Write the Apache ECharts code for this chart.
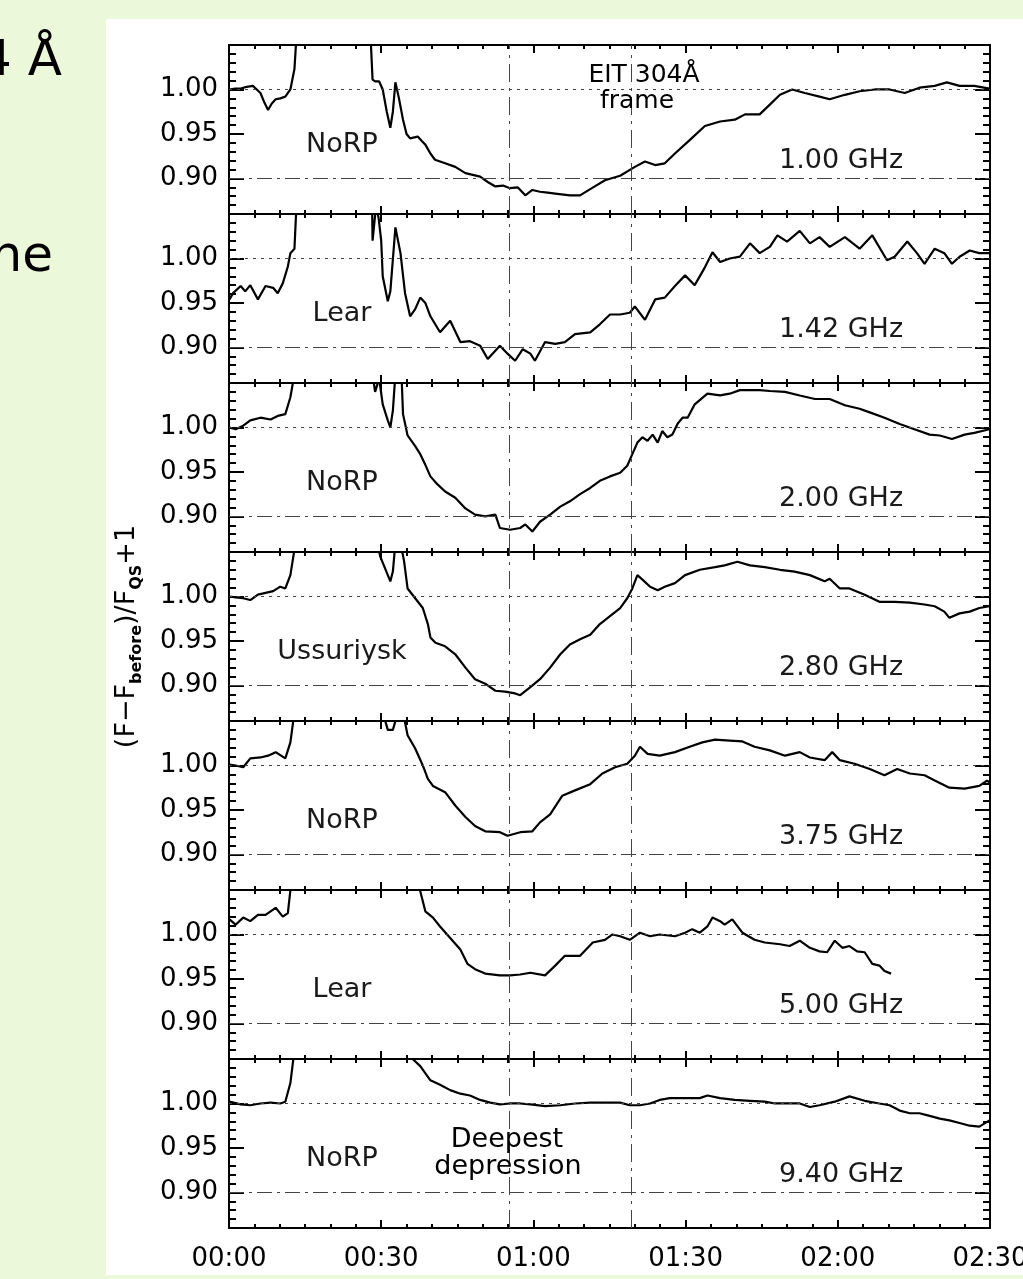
<!DOCTYPE html>
<html>
<head>
<meta charset="utf-8">
<script src="https://cdn.jsdelivr.net/npm/echarts@6/dist/echarts.min.js"></script>
<style>
html,body{margin:0;padding:0;background:#ECF8DA;}
#chart{width:1023px;height:1279px;}
</style>
</head>
<body>
<div id="chart"></div>
<script>
// ---------------- data (time in minutes after 00:00, normalized flux) ----------------
const stations = ['NoRP', 'Lear', 'NoRP', 'Ussuriysk', 'NoRP', 'Lear', 'NoRP'];
const freqs = ['1.00 GHz', '1.42 GHz', '2.00 GHz', '2.80 GHz', '3.75 GHz', '5.00 GHz', '9.40 GHz'];
const yTickValues = [0.90, 0.95, 1.00];
const xTickMinutes = [0, 30, 60, 90, 120, 150];
const refLines = [1.00, 0.90];
const eventTimes = [55.3, 79.2]; // deepest depression, EIT 304 frame

const norp1000 = [[0.1,1.000],[1.2,1.001],[2.3,1.001],[3.5,1.003],[4.7,1.004],[6.2,0.996],[7.0,0.985],[7.7,0.977],[8.4,0.984],[9.2,0.989],[10.1,0.990],[11.1,0.992],[12.1,1.000],[12.9,1.023],[13.3,1.06],[14,1.3],[20,1.6],[27.5,1.3],[27.9,1.06],[28.3,1.011],[28.8,1.009],[29.6,1.009],[30.3,1.000],[31.1,0.975],[31.8,0.957],[32.3,0.975],[32.8,1.008],[33.5,0.990],[34.3,0.966],[35.0,0.950],[35.7,0.945],[37.2,0.947],[38.0,0.942],[38.7,0.938],[39.7,0.928],[40.6,0.921],[42.6,0.917],[44.6,0.913],[46.6,0.906],[49.5,0.902],[51.0,0.896],[52.5,0.891],[54.0,0.892],[55.4,0.889],[56.9,0.890],[58.4,0.881],[59.8,0.887],[61.3,0.885],[62.8,0.884],[64.3,0.883],[67.2,0.881],[69.2,0.881],[71.2,0.888],[74.1,0.898],[77.1,0.903],[80.0,0.913],[82.0,0.919],[84.0,0.915],[85.9,0.917],[87.9,0.928],[90.8,0.943],[93.8,0.959],[96.8,0.964],[99.7,0.966],[101.7,0.972],[104.6,0.972],[106.6,0.983],[108.6,0.994],[111.0,1.000],[113.5,0.996],[116.4,0.992],[118.4,0.989],[121.4,0.994],[124.3,0.998],[127.3,1.000],[130.2,1.000],[133.2,0.996],[136.1,1.002],[139.1,1.004],[141.5,1.008],[144.0,1.004],[146.9,1.004],[149.9,1.001]];

const lear1420 = [[0.1,0.954],[0.8,0.961],[2.3,0.969],[3.2,0.963],[4.2,0.970],[5.7,0.954],[7.2,0.969],[8.7,0.967],[9.6,0.961],[10.6,0.972],[11.6,0.991],[12.1,1.006],[12.9,1.011],[13.3,1.06],[14,1.3],[20,1.6],[27.8,1.3],[28.2,1.06],[28.3,1.020],[29.0,1.06],[29.5,1.045],[30.0,1.02],[30.3,0.980],[31.3,0.952],[31.8,0.963],[32.8,1.035],[33.8,1.006],[34.7,0.961],[35.7,0.935],[36.7,0.943],[37.7,0.956],[38.7,0.950],[39.7,0.935],[41.6,0.917],[43.6,0.930],[45.6,0.906],[47.5,0.907],[49.5,0.902],[51.0,0.887],[53.4,0.902],[54.9,0.893],[56.4,0.885],[57.9,0.898],[59.4,0.893],[60.3,0.885],[62.3,0.906],[64.3,0.904],[66.2,0.906],[68.2,0.915],[71.2,0.917],[73.1,0.926],[75.1,0.937],[77.1,0.937],[79.0,0.939],[80.0,0.946],[82.0,0.931],[84.0,0.954],[85.9,0.956],[87.9,0.969],[89.9,0.981],[91.8,0.970],[93.8,0.990],[95.3,1.007],[96.8,0.996],[98.7,1.000],[100.7,1.002],[102.7,1.017],[104.6,1.006],[106.6,1.013],[108.1,1.026],[110.0,1.019],[112.5,1.031],[114.5,1.017],[116.4,1.024],[118.4,1.013],[121.4,1.024],[124.3,1.011],[126.8,1.026],[129.7,0.998],[131.2,1.002],[133.7,1.019],[135.6,1.006],[137.1,0.994],[139.1,1.011],[141.0,1.006],[142.5,0.994],[144.0,1.002],[146.0,1.009],[147.9,1.006],[149.9,1.006]];

const norp2000 = [[0.1,1.000],[1.3,0.998],[2.8,1.002],[4.2,1.008],[6.2,1.011],[8.2,1.009],[9.6,1.013],[11.1,1.015],[12.1,1.034],[12.9,1.06],[13.5,1.3],[20,1.6],[27.8,1.3],[28.3,1.06],[28.8,1.04],[29.6,1.055],[30.3,1.026],[31.3,1.008],[31.8,1.000],[32.3,1.019],[32.8,1.06],[33.5,1.3],[34.0,1.06],[34.3,1.015],[35.2,0.991],[36.7,0.979],[37.7,0.970],[38.7,0.958],[39.7,0.945],[41.1,0.936],[42.6,0.928],[44.6,0.921],[46.6,0.909],[48.5,0.902],[50.5,0.900],[52.5,0.902],[53.4,0.887],[55.4,0.885],[57.4,0.887],[58.4,0.891],[59.8,0.883],[61.3,0.894],[63.3,0.902],[65.3,0.911],[67.2,0.917],[69.2,0.925],[71.2,0.932],[73.1,0.940],[75.1,0.945],[77.1,0.949],[78.5,0.957],[79.5,0.970],[80.5,0.983],[81.5,0.989],[82.5,0.985],[83.5,0.992],[84.5,0.983],[85.4,0.996],[86.4,0.989],[87.4,0.992],[88.4,1.004],[89.4,1.011],[90.4,1.011],[91.8,1.026],[94.3,1.038],[96.8,1.036],[98.7,1.038],[100.7,1.042],[102.7,1.042],[104.6,1.042],[106.6,1.041],[109.6,1.040],[112.5,1.036],[115.5,1.032],[118.4,1.032],[121.4,1.025],[124.3,1.021],[126.3,1.017],[129.2,1.011],[132.2,1.004],[135.1,0.998],[138.1,0.992],[140.1,0.991],[142.5,0.987],[145.0,0.992],[146.9,0.994],[149.9,0.998]];

const ussur2800 = [[0.1,1.000],[1.3,0.999],[2.8,0.998],[4.2,0.996],[5.7,1.002],[7.2,1.004],[8.7,1.006],[10.1,1.011],[11.1,1.009],[12.1,1.024],[13.1,1.06],[13.6,1.3],[20,1.6],[29.0,1.3],[29.3,1.06],[29.8,1.045],[30.8,1.031],[31.8,1.017],[32.3,1.028],[32.8,1.06],[33.8,1.06],[34.5,1.04],[35.2,1.009],[36.7,0.998],[38.2,0.987],[39.2,0.969],[39.7,0.954],[40.7,0.948],[42.6,0.944],[44.6,0.935],[46.6,0.920],[48.5,0.907],[50.5,0.902],[52.5,0.894],[54.4,0.893],[56.4,0.891],[57.4,0.889],[59.4,0.898],[61.3,0.907],[63.3,0.920],[65.3,0.935],[67.2,0.946],[69.2,0.952],[71.2,0.957],[73.1,0.969],[75.1,0.978],[77.1,0.987],[78.5,0.998],[79.5,1.009],[80.5,1.024],[81.5,1.019],[83.0,1.011],[84.5,1.007],[85.9,1.011],[87.9,1.015],[89.9,1.024],[92.8,1.030],[95.8,1.033],[97.7,1.035],[100.2,1.039],[102.7,1.035],[105.6,1.033],[108.6,1.030],[111.5,1.028],[114.5,1.024],[117.4,1.017],[118.4,1.020],[120.4,1.009],[122.3,1.009],[125.3,1.002],[128.2,0.994],[131.2,0.994],[134.2,0.993],[137.1,0.991],[139.1,0.989],[141.0,0.983],[142.0,0.976],[144.0,0.981],[146.0,0.983],[147.9,0.987],[149.9,0.989]];

const norp3750 = [[0.1,1.001],[1.3,1.000],[2.8,0.998],[4.2,1.008],[6.2,1.009],[7.7,1.011],[9.2,1.015],[11.1,1.008],[12.1,1.026],[12.9,1.06],[13.5,1.3],[20,1.6],[30.0,1.3],[30.3,1.06],[31.3,1.04],[32.3,1.04],[33.3,1.06],[34.3,1.06],[35.2,1.034],[36.7,1.019],[38.2,1.000],[39.2,0.985],[40.2,0.977],[42.6,0.970],[44.6,0.955],[46.6,0.942],[48.5,0.932],[50.5,0.926],[53.4,0.925],[54.9,0.921],[57.4,0.925],[59.8,0.926],[61.3,0.936],[63.3,0.945],[65.7,0.966],[68.2,0.972],[71.2,0.979],[73.6,0.991],[76.1,0.998],[78.5,1.002],[80.0,1.011],[81.0,1.021],[82.5,1.013],[84.9,1.011],[87.9,1.015],[90.8,1.021],[93.3,1.026],[95.8,1.029],[98.7,1.028],[101.2,1.027],[103.6,1.021],[106.6,1.017],[109.6,1.011],[112.5,1.015],[114.5,1.009],[117.4,1.006],[118.9,1.015],[120.4,1.006],[123.3,1.002],[126.3,0.996],[129.2,0.989],[131.7,0.996],[134.2,0.991],[137.1,0.989],[139.1,0.983],[142.0,0.975],[145.0,0.974],[147.9,0.977],[149.4,0.983],[149.9,0.981]];

const lear5000 = [[0.1,1.017],[1.3,1.011],[2.8,1.019],[4.2,1.015],[5.7,1.022],[7.2,1.022],[9.2,1.030],[10.6,1.020],[11.6,1.024],[12.3,1.06],[12.8,1.3],[20,1.6],[36.5,1.3],[37.2,1.06],[38.7,1.026],[40.2,1.019],[41.6,1.009],[43.6,0.996],[45.6,0.983],[47.0,0.967],[48.5,0.961],[50.5,0.956],[53.4,0.954],[55.4,0.954],[57.4,0.955],[59.4,0.957],[62.3,0.954],[64.3,0.965],[66.2,0.976],[69.2,0.976],[71.7,0.991],[74.1,0.994],[75.6,1.000],[77.1,0.998],[79.0,0.994],[81.0,1.002],[83.0,0.998],[84.9,1.000],[87.9,0.998],[89.9,1.002],[91.3,1.006],[92.8,1.002],[94.3,1.009],[95.3,1.019],[96.8,1.015],[97.7,1.011],[99.2,1.017],[101.2,1.002],[103.6,0.994],[105.6,0.991],[108.6,0.989],[110.5,0.987],[112.5,0.993],[114.5,0.985],[116.4,0.981],[117.9,0.980],[119.4,0.993],[120.9,0.985],[122.3,0.987],[123.8,0.981],[125.3,0.980],[126.8,0.967],[128.2,0.965],[129.2,0.959],[130.5,0.956]];

const norp9400 = [[0.1,1.002],[2.3,0.999],[4.2,0.998],[6.2,1.000],[8.2,1.001],[10.1,1.000],[11.1,1.002],[12.1,1.023],[12.9,1.06],[13.5,1.3],[20,1.6],[35.8,1.3],[36.2,1.05],[37.7,1.042],[39.7,1.026],[41.6,1.021],[43.6,1.015],[45.6,1.011],[47.5,1.009],[49.5,1.004],[51.5,1.001],[53.4,0.999],[55.4,1.000],[57.4,1.000],[59.4,0.999],[62.3,0.997],[65.3,0.998],[68.2,1.000],[71.2,1.001],[74.1,1.001],[77.1,1.001],[79.0,0.998],[81.0,0.998],[83.0,1.000],[84.9,1.004],[86.9,1.006],[89.9,1.006],[92.8,1.006],[94.3,1.009],[96.8,1.006],[99.7,1.004],[102.7,1.003],[105.6,1.002],[107.6,1.000],[109.6,1.000],[112.5,1.000],[114.5,0.996],[116.4,0.998],[119.4,1.002],[122.3,1.008],[125.3,1.003],[128.2,1.000],[130.2,0.998],[132.2,0.992],[134.2,0.989],[136.1,0.989],[138.1,0.986],[140.1,0.983],[142.0,0.981],[144.0,0.978],[146.0,0.975],[147.9,0.974],[149.9,0.981]];

const panelData = [norp1000, lear1420, norp2000, ussur2800, norp3750, lear5000, norp9400];

// ---------------- layout / style ----------------
const GL = 229, GR = 33, GT = 45, GH = 169;
const FONT = 'DejaVu Sans';
const N = panelData.length;

function hhmm(v) {
  const h = Math.floor(v / 60), m = Math.round(v % 60);
  return String(h).padStart(2, '0') + ':' + String(m).padStart(2, '0');
}

const grids = [], xAxes = [], yAxes = [], series = [], graphics = [];

graphics.push({type:'rect', z:-100, shape:{x:106, y:19, width:917, height:1256}, style:{fill:'#ffffff'}, silent:true});
graphics.push({type:'text', z:-50, style:{text:'4 Å', x:62, y:62, align:'right', verticalAlign:'middle', font:'50px "DejaVu Sans"', fill:'#000'}});
graphics.push({type:'text', z:-50, style:{text:'he', x:53, y:258, align:'right', verticalAlign:'middle', font:'50px "DejaVu Sans"', fill:'#000'}});

for (let i = 0; i < N; i++) {
  const top = GT + i * GH;
  grids.push({left: GL, right: GR, top: top, height: GH, containLabel: false, outerBoundsMode: 'none'});
  ['bottom', 'top'].forEach(pos => {
    xAxes.push({
      type:'value', gridIndex:i, position:pos, min:0, max:150, interval:30,
      axisLine:{show:true, onZero:false, lineStyle:{color:'#000', width:2}},
      axisTick:{show:true, inside:true, length:8, lineStyle:{color:'#000', width:2}},
      minorTick:{show:true, splitNumber:6, length:4, lineStyle:{color:'#000', width:2}},
      splitLine:{show:false}, minorSplitLine:{show:false},
      axisLabel:{show: pos === 'bottom' && i === N - 1, margin:18, fontSize:26, fontFamily:FONT, color:'#000',
        customValues: xTickMinutes, formatter: v => hhmm(v), hideOverlap:false}
    });
  });
  [['left', false], ['left', true], ['right', false], ['right', true]].forEach(([pos, major], k) => {
    const ax = {
      type:'value', gridIndex:i, position:pos, min:0.86, max:1.05, interval:0.01,
      axisLine:{show:!major, onZero:false, lineStyle:{color:'#000', width:2}},
      axisTick:{show:true, inside:true, length: major ? 15 : 7, lineStyle:{color:'#000', width:2}},
      splitLine:{show:false},
      axisLabel:{show: pos === 'left' && !major, customValues: yTickValues, margin:11, fontSize:26,
        fontFamily:FONT, color:'#000', formatter: v => v.toFixed(2)}
    };
    if (major) ax.axisTick.customValues = yTickValues;
    if (i === 3 && k === 0) {
      ax.name = '{a|(F−F}{b|before}{a|)/F}{b|QS}{a|+1}';
      ax.nameLocation = 'middle';
      ax.nameRotate = 90;
      ax.nameGap = 84;
      ax.nameTextStyle = {rich:{
        a:{fontSize:27, fontFamily:FONT, color:'#000', lineHeight:36, verticalAlign:'middle'},
        b:{fontSize:16, fontWeight:'bold', fontFamily:FONT, color:'#000', verticalAlign:'bottom'}
      }};
    }
    yAxes.push(ax);
  });

  series.push({
    type:'line', xAxisIndex: 2 * i, yAxisIndex: 4 * i, data: panelData[i],
    showSymbol:false, symbol:'none', clip:true, animation:false,
    lineStyle:{color:'#000', width:2.2}, silent:true,
    markLine:{
      symbol:'none', silent:true, animation:false, label:{show:false},
      data:[
        {yAxis: refLines[0], lineStyle:{color:'#444', width:1, type:[3,5]}},
        {yAxis: refLines[1], lineStyle:{color:'#444', width:1, type:[15,5,3,5]}},
        {xAxis: eventTimes[0], lineStyle:{color:'#444', width:1, type:[18,6,3,6]}},
        {xAxis: eventTimes[1], lineStyle:{color:'#444', width:1, type:[18,6,3,6]}}
      ]
    }
  });

  graphics.push({type:'text', z:50, style:{text: stations[i], x:342, y: top + 100, align:'center', verticalAlign:'middle',
    font:'27px "DejaVu Sans"', fill:'#1a1a1a'}});
  graphics.push({type:'text', z:50, style:{text: freqs[i], x:841, y: top + 116, align:'center', verticalAlign:'middle',
    font:'27px "DejaVu Sans"', fill:'#1a1a1a'}});
}

graphics.push({type:'text', z:50, style:{text:'EIT 304Å', x:644, y:75, align:'center', verticalAlign:'middle', font:'25px "DejaVu Sans"', fill:'#000'}});
graphics.push({type:'text', z:50, style:{text:'frame', x:637, y:101, align:'center', verticalAlign:'middle', font:'25px "DejaVu Sans"', fill:'#000'}});
graphics.push({type:'text', z:50, style:{text:'Deepest', x:507, y:GT + 6 * GH + 81, align:'center', verticalAlign:'middle', font:'27px "DejaVu Sans"', fill:'#000'}});
graphics.push({type:'text', z:50, style:{text:'depression', x:508, y:GT + 6 * GH + 108, align:'center', verticalAlign:'middle', font:'27px "DejaVu Sans"', fill:'#000'}});

const chart = echarts.init(document.getElementById('chart'), null, {renderer:'canvas'});
chart.setOption({
  backgroundColor:'#ECF8DA',
  animation:false,
  grid: grids, xAxis: xAxes, yAxis: yAxes, series: series, graphic: graphics
});
</script>
</body>
</html>
